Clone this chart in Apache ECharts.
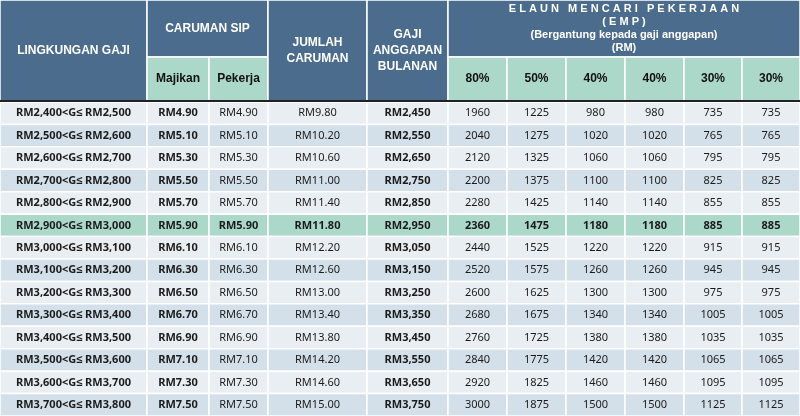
<!DOCTYPE html>
<html><head><meta charset="utf-8">
<script src="https://cdn.jsdelivr.net/npm/echarts@6/dist/echarts.min.js"></script>
<style>html,body{margin:0;padding:0;background:#fff}#c{width:800px;height:416px}</style>
</head><body><div id="c"></div>
<script>
// table values
var wageRanges = ['RM2,400<G\u2264 RM2,500','RM2,500<G\u2264 RM2,600','RM2,600<G\u2264 RM2,700','RM2,700<G\u2264 RM2,800','RM2,800<G\u2264 RM2,900','RM2,900<G\u2264 RM3,000','RM3,000<G\u2264 RM3,100','RM3,100<G\u2264 RM3,200','RM3,200<G\u2264 RM3,300','RM3,300<G\u2264 RM3,400','RM3,400<G\u2264 RM3,500','RM3,500<G\u2264 RM3,600','RM3,600<G\u2264 RM3,700','RM3,700<G\u2264 RM3,800'];
var majikan = ['RM4.90','RM5.10','RM5.30','RM5.50','RM5.70','RM5.90','RM6.10','RM6.30','RM6.50','RM6.70','RM6.90','RM7.10','RM7.30','RM7.50'];
var pekerja = majikan.slice();
var jumlah = ['RM9.80','RM10.20','RM10.60','RM11.00','RM11.40','RM11.80','RM12.20','RM12.60','RM13.00','RM13.40','RM13.80','RM14.20','RM14.60','RM15.00'];
var gajiAnggapan = ['RM2,450','RM2,550','RM2,650','RM2,750','RM2,850','RM2,950','RM3,050','RM3,150','RM3,250','RM3,350','RM3,450','RM3,550','RM3,650','RM3,750'];
var emp80 = [1960,2040,2120,2200,2280,2360,2440,2520,2600,2680,2760,2840,2920,3000];
var emp50 = [1225,1275,1325,1375,1425,1475,1525,1575,1625,1675,1725,1775,1825,1875];
var emp40 = [980,1020,1060,1100,1140,1180,1220,1260,1300,1340,1380,1420,1460,1500];
var emp30 = [735,765,795,825,855,885,915,945,975,1005,1035,1065,1095,1125];
var empHeaders = ['80%','50%','40%','40%','30%','30%'];
var highlightRow = 5;

// layout
var colEdges = [0,147,209,268,367,448,507,566,625,684,742,800];
var headTop = 0, subTop = 57, headBottom = 101, rowH = 22.43;
var DARK = '#4b6c8d', GREEN = '#acd8c9', L1 = '#e9eef2', L2 = '#d3dfe9';

var columns = [wageRanges, majikan, pekerja, jumlah, gajiAnggapan, emp80, emp50, emp40, emp40, emp30, emp30];
var boldCols = {0:true,1:true,4:true};

var cells = [];
function cell(x0,x1,y0,y1,text,fill,color,bold,size,font,lh){
  cells.push([x0,x1,y0,y1,text,fill,color,bold?'bold':'normal',size,font,lh||0]);
}
var HF = 'Liberation Sans, Arial, sans-serif', DF = 'Noto Sans, sans-serif';
// header
cell(colEdges[0],colEdges[1],headTop,headBottom,'LINGKUNGAN GAJI',DARK,'#fff',true,12,HF);
cell(colEdges[1],colEdges[3],headTop,subTop,'CARUMAN SIP',DARK,'#fff',true,12,HF);
cell(colEdges[1],colEdges[2],subTop,headBottom,'Majikan',GREEN,'#111',true,12,HF);
cell(colEdges[2],colEdges[3],subTop,headBottom,'Pekerja',GREEN,'#111',true,12,HF);
cell(colEdges[3],colEdges[4],headTop,headBottom,'JUMLAH\nCARUMAN',DARK,'#fff',true,12,HF,16);
cell(colEdges[4],colEdges[5],headTop,headBottom,'GAJI\nANGGAPAN\nBULANAN',DARK,'#fff',true,12,HF,16);
cell(colEdges[5],colEdges[11],headTop,subTop,'E L A U N   M E N C A R I   P E K E R J A A N\n( E M P )\n(Bergantung kepada gaji anggapan)\n(RM)',DARK,'#fff',true,11,HF,13);
for (var k=0;k<6;k++) cell(colEdges[5+k],colEdges[6+k],subTop,headBottom,empHeaders[k],GREEN,'#111',true,12,HF);
// body
for (var r=0;r<wageRanges.length;r++){
  var y0 = headBottom + 1 + r*rowH, y1 = y0 + rowH;
  var fill = r===highlightRow ? GREEN : (r%2===0 ? L1 : L2);
  for (var c=0;c<columns.length;c++){
    cell(colEdges[c],colEdges[c+1],y0,y1,String(columns[c][r]),fill,'#1b1b1b',boldCols[c]||r===highlightRow,11,DF);
  }
}

var chart = echarts.init(document.getElementById('c'));
chart.setOption({
  animation:false,
  grid:{left:0,right:0,top:0,bottom:0},
  xAxis:{type:'value',min:0,max:800,show:false},
  yAxis:{type:'value',min:0,max:416,inverse:true,show:false},
  series:[{
    type:'custom',
    data:cells,
    encode:{x:[0,1],y:[2,3]},
    renderItem:function(params,api){
      var p0 = api.coord([api.value(0),api.value(2)]);
      var p1 = api.coord([api.value(1),api.value(3)]);
      var d = cells[params.dataIndex];
      return {type:'group',children:[
        {type:'rect',shape:{x:p0[0],y:p0[1],width:p1[0]-p0[0],height:p1[1]-p0[1]},
          style:{fill:d[5],stroke:'#fff',lineWidth:1.5}},
        {type:'text',style:{x:(p0[0]+p1[0])/2,y:(p0[1]+p1[1])/2,text:d[4],fill:d[6],
          fontWeight:d[7],fontSize:d[8],fontFamily:d[9],lineHeight:d[10]||undefined,
          align:'center',verticalAlign:'middle'}}
      ]};
    }
  },{
    type:'line',silent:true,symbol:'none',
    data:[[0,headBottom],[800,headBottom]],
    lineStyle:{color:'#222',width:2}
  }]
});
</script></body></html>
